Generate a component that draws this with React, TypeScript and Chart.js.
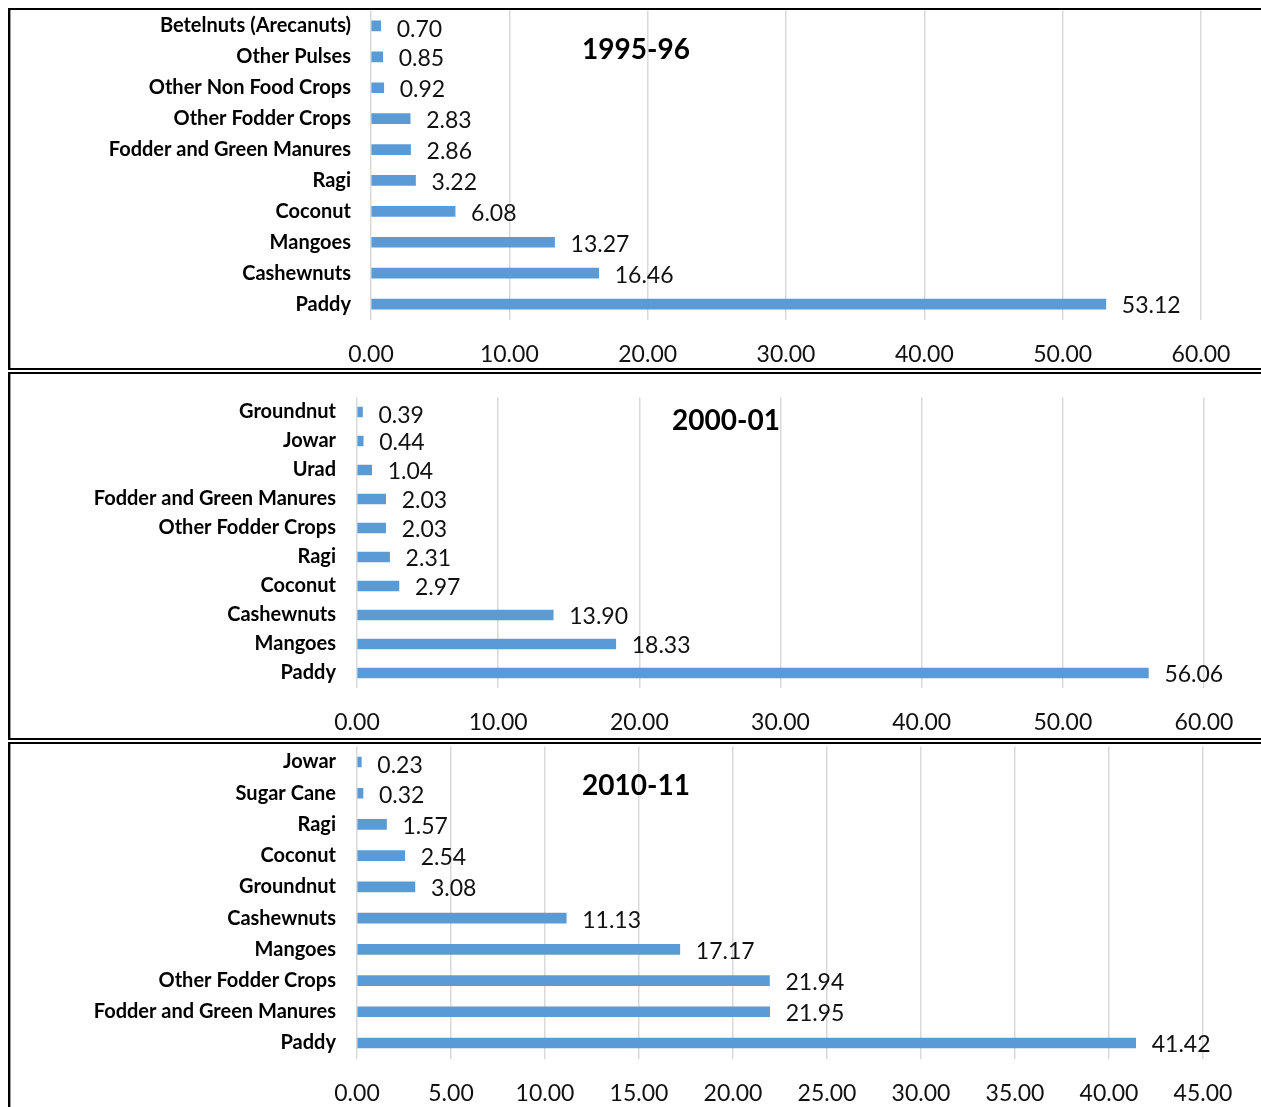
import React, { useEffect, useRef } from "react";
import { Chart, registerables } from "chart.js";
Chart.register(...registerables);

const FONT = "Lato, 'Open Sans', sans-serif";
const BAR_COLOR = "#5b9bd5";

const cats1995 = ["Betelnuts (Arecanuts)", "Other Pulses", "Other Non Food Crops", "Other Fodder Crops", "Fodder and Green Manures", "Ragi", "Coconut", "Mangoes", "Cashewnuts", "Paddy"];
const vals1995 = [0.7, 0.85, 0.92, 2.83, 2.86, 3.22, 6.08, 13.27, 16.46, 53.12];

const cats2000 = ["Groundnut", "Jowar", "Urad", "Fodder and Green Manures", "Other Fodder Crops", "Ragi", "Coconut", "Cashewnuts", "Mangoes", "Paddy"];
const vals2000 = [0.39, 0.44, 1.04, 2.03, 2.03, 2.31, 2.97, 13.9, 18.33, 56.06];

const cats2010 = ["Jowar", "Sugar Cane", "Ragi", "Coconut", "Groundnut", "Cashewnuts", "Mangoes", "Other Fodder Crops", "Fodder and Green Manures", "Paddy"];
const vals2010 = [0.23, 0.32, 1.57, 2.54, 3.08, 11.13, 17.17, 21.94, 21.95, 41.42];

const titles = ["1995-96", "2000-01", "2010-11"];
const axisMax = [60, 60, 45];
const axisStep = [10, 10, 5];

type Layout = {
  boxTop: number;
  boxHeight: number;
  canvasTop: number;
  canvasHeight: number;
  padTop: number;
  padRight: number;
  yWidth: number;
  xHeight: number;
  tickPad: number;
  labelPad: number;
  titleX: number;
  titleY: number;
};

const layouts: Layout[] = [
  { boxTop: 8, boxHeight: 362, canvasTop: 10, canvasHeight: 358, padTop: 0.5, padRight: 60, yWidth: 361, xHeight: 48.5, tickPad: 21, labelPad: 20, titleX: 626, titleY: 40 },
  { boxTop: 372, boxHeight: 368, canvasTop: 374, canvasHeight: 364, padTop: 23.5, padRight: 57, yWidth: 347, xHeight: 50.5, tickPad: 21, labelPad: 21, titleX: 716, titleY: 47 },
  { boxTop: 742, boxHeight: 500, canvasTop: 744, canvasHeight: 363, padTop: 2.4, padRight: 58, yWidth: 347, xHeight: 48.4, tickPad: 21, labelPad: 21, titleX: 626, titleY: 42 },
];

function Panel(props: { cats: string[]; vals: number[]; title: string; max: number; step: number; lay: Layout }) {
  const ref = useRef<HTMLCanvasElement>(null);
  const { cats, vals, title, max, step, lay } = props;
  useEffect(() => {
    if (!ref.current) return;
    const labelPlugin = {
      id: "valueLabels",
      afterDatasetsDraw(chart: any) {
        const ctx = chart.ctx;
        const meta = chart.getDatasetMeta(0);
        ctx.save();
        ctx.font = `23px ${FONT}`;
        ctx.fillStyle = "#111";
        ctx.textBaseline = "middle";
        ctx.textAlign = "left";
        meta.data.forEach((bar: any, i: number) => {
          const v = chart.data.datasets[0].data[i] as number;
          ctx.fillText(v.toFixed(2), bar.x + 16, bar.y + (i === 0 ? 4 : 2));
        });
        ctx.font = `bold 28px ${FONT}`;
        ctx.textAlign = "center";
        ctx.fillStyle = "#000";
        ctx.fillText(title, lay.titleX, lay.titleY);
        ctx.restore();
      },
    };
    const chart = new Chart(ref.current, {
      type: "bar",
      data: {
        labels: cats,
        datasets: [{ data: vals, backgroundColor: BAR_COLOR, barThickness: 10 }],
      },
      options: {
        indexAxis: "y",
        animation: false,
        responsive: true,
        maintainAspectRatio: false,
        layout: { padding: { top: lay.padTop, right: lay.padRight, left: 0, bottom: 0 } },
        plugins: { legend: { display: false }, tooltip: { enabled: false }, title: { display: false } },
        scales: {
          x: {
            min: 0,
            max: max,
            ticks: {
              stepSize: step,
              padding: lay.tickPad,
              color: "#111",
              font: { family: FONT, size: 23 },
              maxRotation: 0,
              callback: (v: any) => Number(v).toFixed(2),
            },
            grid: { color: "#d9d9d9", lineWidth: 1.5, drawTicks: false },
            border: { display: false },
            afterFit: (s: any) => {
              s.paddingLeft = 0;
              s.paddingRight = 0;
              s.height = lay.xHeight;
            },
          },
          y: {
            ticks: {
              padding: lay.labelPad,
              color: "#000",
              font: { family: FONT, size: 20, weight: "bold" },
              autoSkip: false,
            },
            grid: { display: false, drawTicks: false },
            border: { display: false },
            afterFit: (s: any) => {
              s.paddingTop = 0;
              s.paddingBottom = 0;
              s.width = lay.yWidth;
            },
          },
        },
      },
      plugins: [labelPlugin],
    } as any);
    return () => chart.destroy();
  }, []);
  return (
    <>
      <div
        style={{
          position: "absolute",
          left: 8,
          top: lay.boxTop,
          width: 1270,
          height: lay.boxHeight,
          border: "2px solid #000",
          boxSizing: "border-box",
          boxShadow: "inset 1px 0 0 #9a9a9a",
        }}
      />
      <div style={{ position: "absolute", left: 10, top: lay.canvasTop, width: 1251, height: lay.canvasHeight }}>
        <canvas ref={ref} />
      </div>
    </>
  );
}

export default function App() {
  return (
    <div style={{ position: "fixed", left: 0, top: 0, width: 1261, height: 1107, overflow: "hidden", background: "#fff" }}>
      <Panel cats={cats1995} vals={vals1995} title={titles[0]} max={axisMax[0]} step={axisStep[0]} lay={layouts[0]} />
      <Panel cats={cats2000} vals={vals2000} title={titles[1]} max={axisMax[1]} step={axisStep[1]} lay={layouts[1]} />
      <Panel cats={cats2010} vals={vals2010} title={titles[2]} max={axisMax[2]} step={axisStep[2]} lay={layouts[2]} />
    </div>
  );
}
